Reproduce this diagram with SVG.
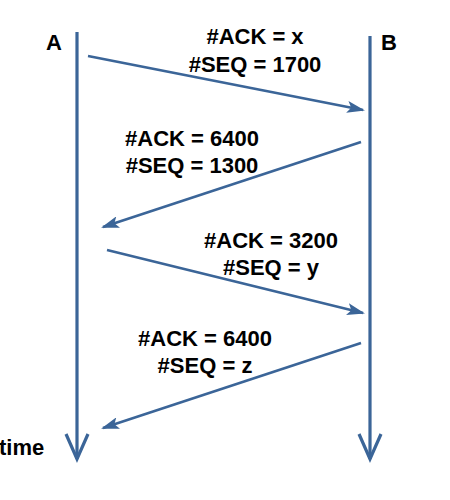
<svg xmlns="http://www.w3.org/2000/svg" width="450" height="500" viewBox="0 0 450 500">
<style>
.t{font-family:"Liberation Sans",Arial,sans-serif;font-weight:bold;font-size:22px;fill:#000}
.c{text-anchor:middle}
.ln{stroke:#3B6598;stroke-width:3.2;fill:none}
.msg{stroke:#3B6598;stroke-width:2.6;fill:none;marker-end:url(#ah)}
</style>
<defs>
<marker id="ah" markerWidth="18" markerHeight="12" refX="16" refY="6" orient="auto" markerUnits="userSpaceOnUse">
<path d="M0,0 L18,6 L0,12 L4,6 Z" fill="#3B6598"/>
</marker>
</defs>
<rect width="450" height="500" fill="#fff"/>
<g id="nodeA">
<text class="t" x="46" y="50">A</text>
</g>
<g id="nodeB">
<text class="t" x="381" y="50">B</text>
</g>
<g id="timeLabel">
<text class="t" x="-1" y="455">time</text>
</g>
<g id="lifelines">
<line class="ln" x1="77" y1="32" x2="77" y2="459"/>
<polyline class="ln" points="66,434 77,459 88,434"/>
<line class="ln" x1="370" y1="36" x2="370" y2="459"/>
<polyline class="ln" points="359,434 370,459 381,434"/>
</g>
<g id="connectors">
<line class="msg" x1="88" y1="56" x2="363" y2="110"/>
<line class="msg" x1="361" y1="142" x2="103" y2="227"/>
<line class="msg" x1="107" y1="250" x2="363" y2="313"/>
<line class="msg" x1="361" y1="343" x2="103" y2="428"/>
</g>
<g id="labels">
<text class="t c" x="255" y="44">#ACK = x</text>
<text class="t c" x="255" y="72">#SEQ = 1700</text>
<text class="t c" x="192" y="146">#ACK = 6400</text>
<text class="t c" x="192" y="173">#SEQ = 1300</text>
<text class="t c" x="271" y="248">#ACK = 3200</text>
<text class="t c" x="271" y="275">#SEQ = y</text>
<text class="t c" x="205" y="346">#ACK = 6400</text>
<text class="t c" x="205" y="373">#SEQ = z</text>
</g>
</svg>
